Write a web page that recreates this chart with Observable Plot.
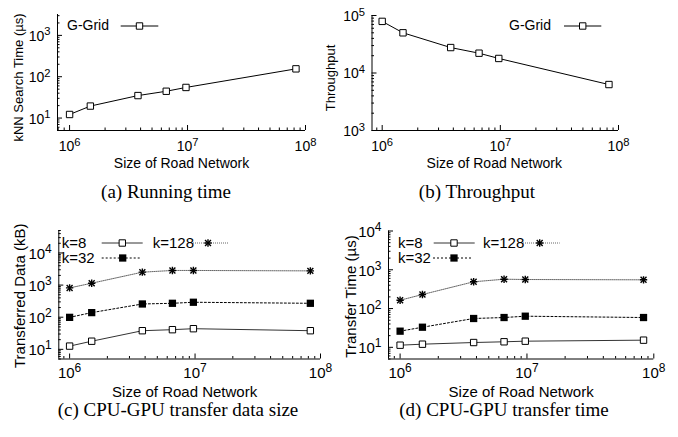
<!DOCTYPE html>
<html><head><meta charset="utf-8">
<script src="https://cdn.jsdelivr.net/npm/d3@7"></script>
<script src="https://cdn.jsdelivr.net/npm/@observablehq/plot@0.6"></script>
<style>
body{margin:0;background:#fff}
#fig{position:relative;width:678px;height:437px;overflow:hidden;background:#fff}
#fig svg{position:absolute;left:0;top:0}
.cap{position:absolute;font-family:"Liberation Serif","Times New Roman",serif;font-size:19px;white-space:nowrap;transform:translate(-50%,-50%);color:#000;line-height:1}
</style></head><body><div id="fig"></div>
<script>
// ---- data ----
const sizes = [1.0e6, 1.5e6, 3.8e6, 6.6e6, 9.7e6, 8.3e7];
const gridTime = [12.2, 19.5, 35, 44.5, 55, 155];
const gridThroughput = [79000, 50000, 27700, 22100, 17900, 6300];
const dataK8 = [12.6, 17.9, 38, 40.9, 43.9, 38];
const dataK32 = [99, 139, 258, 271, 292, 271];
const dataK128 = [816, 1143, 2522, 2850, 2850, 2770];
const timeK8 = [11.35, 12.05, 13.3, 13.9, 14.4, 15.3];
const timeK32 = [26.1, 33, 55.4, 58.7, 63.5, 58.7];
const timeK128 = [164, 230, 490, 571, 561, 551];
const xTicks = [1e6, 1e7, 1e8];
const xTickLabels = ["10^6", "10^7", "10^8"];
const yTicksA = [10, 100, 1000], yLabelsA = ["10^1", "10^2", "10^3"];
const yTicksB = [1e3, 1e4, 1e5], yLabelsB = ["10^3", "10^4", "10^5"];
const yTicksC = [10, 100, 1000, 10000], yLabelsC = ["10^1", "10^2", "10^3", "10^4"];
const yTicksD = [10, 100, 1000, 10000], yLabelsD = ["10^1", "10^2", "10^3", "10^4"];
const captions = ["(a) Running time", "(b) Throughput", "(c) CPU-GPU transfer data size", "(d) CPU-GPU transfer time"];

const styles = {
  grid: {stroke: "#000", dash: null, marker: "open"},
  k8: {stroke: "#333", dash: null, marker: "open"},
  k32: {stroke: "#000", dash: "2,2", marker: "filled"},
  k128: {stroke: "#666", dash: "1,1", marker: "star"}
};
const SQ_OPEN = 3.6, SQ_FILL = 4.1, STAR_PLUS = 2.5, STAR_TIMES = 2.8, STAR_W = 1.4;

function minorTicks(lo, hi) {
  const out = [];
  for (let e = Math.floor(Math.log10(lo)); e <= Math.ceil(Math.log10(hi)); e++)
    for (let m = 2; m <= 9; m++) { const v = m * Math.pow(10, e); if (v >= lo * 0.999 && v <= hi * 1.001) out.push(v); }
  return out;
}

function markerMarks(rows, st) {
  if (st.marker === "open") return [Plot.dot(rows, {x: "x", y: "y", symbol: "square", r: SQ_OPEN, fill: "#fff", stroke: "#000", strokeWidth: 1})];
  if (st.marker === "filled") return [Plot.dot(rows, {x: "x", y: "y", symbol: "square", r: SQ_FILL, fill: "#000", stroke: "none"})];
  return [
    Plot.dot(rows, {x: "x", y: "y", symbol: "plus", r: STAR_PLUS, stroke: "#000", strokeWidth: STAR_W}),
    Plot.dot(rows, {x: "x", y: "y", symbol: "times", r: STAR_TIMES, stroke: "#000", strokeWidth: STAR_W})
  ];
}

function panel(o) {
  const W = 678;
  const ph = o.B - o.T, pw = o.R - o.L;
  const marks = [];
  for (const s of o.series) {
    const rows = sizes.map((x, i) => ({x, y: s.values[i]}));
    const st = styles[s.style];
    marks.push(Plot.line(rows, {x: "x", y: "y", stroke: st.stroke, strokeWidth: 1, strokeDasharray: st.dash}));
    marks.push(...markerMarks(rows, st));
  }
  const svg = Plot.plot({
    width: W, height: o.H,
    marginLeft: o.L, marginRight: W - o.R, marginTop: o.T, marginBottom: o.H - o.B,
    x: {type: "log", domain: [o.xmin, 1e8], axis: null},
    y: {type: "log", domain: [o.ymin, o.ymax], axis: null},
    style: {background: "transparent", fontFamily: "'Liberation Sans', Arial, sans-serif", fontSize: o.fs + "px", color: "#000", overflow: "visible"},
    marks: [
      Plot.ruleX([o.xmin], {stroke: "#000", strokeWidth: 1}),
      Plot.ruleY([o.ymin], {stroke: "#000", strokeWidth: 1}),
      Plot.tickX(xTicks, {x: d => d, insetTop: ph - 5, stroke: "#000"}),
      Plot.tickX(minorTicks(o.xmin, 1e8), {x: d => d, insetTop: ph - 2.5, stroke: "#000"}),
      Plot.tickY(o.yTicks, {y: d => d, insetRight: pw - 5, stroke: "#000"}),
      Plot.tickY(minorTicks(o.ymin, o.ymax), {y: d => d, insetRight: pw - 2.5, stroke: "#000"}),
      ...marks,
      Plot.text(xTicks, {x: d => d, text: (d, i) => xTickLabels[i], frameAnchor: "bottom", dy: o.xtDy, textAnchor: "middle", lineAnchor: "middle", fill: "#000"}),
      Plot.text(o.yTicks, {y: d => d, text: (d, i) => o.yLabels[i], frameAnchor: "left", dx: -7, dy: 1, textAnchor: "end", lineAnchor: "middle", fill: "#000"}),
      Plot.text(["Size of Road Network"], {text: d => d, frameAnchor: "bottom", dx: o.xlDx, dy: o.xlDy, textAnchor: "middle", lineAnchor: "middle", fill: "#000"}),
      Plot.text([o.ylabel], {text: d => d, frameAnchor: "left", rotate: -90, dx: o.ylDx, dy: o.ylDy, fontSize: o.ylFs, textAnchor: "middle", lineAnchor: "middle", fill: "#000"})
    ]
  });
  // superscripts for 10^n labels
  svg.querySelectorAll("text").forEach(t => {
    if (t.children.length) return;
    const m = /^(.*)\^(.+)$/.exec(t.textContent);
    if (m) {
      t.textContent = m[1];
      const ts = document.createElementNS("http://www.w3.org/2000/svg", "tspan");
      ts.setAttribute("dy", "-0.48em");
      ts.setAttribute("font-size", "0.8em");
      ts.textContent = m[2];
      t.appendChild(ts);
    }
  });
  // legend
  const g = d3.select(svg).append("g");
  for (const it of o.legend) {
    const st = styles[it.style];
    g.append("text").attr("x", it.tx).attr("y", it.y).attr("dy", "0.32em").attr("text-anchor", "start").attr("fill", "#000").text(it.label);
    g.append("line").attr("x1", it.x1).attr("x2", it.x2).attr("y1", it.y).attr("y2", it.y)
      .attr("stroke", st.stroke).attr("stroke-width", 1).attr("stroke-dasharray", st.dash);
    const tr = `translate(${it.mx},${it.y})`;
    if (st.marker === "open") g.append("path").attr("transform", tr).attr("d", d3.symbol(d3.symbolSquare, SQ_OPEN * SQ_OPEN * Math.PI)()).attr("fill", "#fff").attr("stroke", "#000");
    else if (st.marker === "filled") g.append("path").attr("transform", tr).attr("d", d3.symbol(d3.symbolSquare, SQ_FILL * SQ_FILL * Math.PI)()).attr("fill", "#000");
    else {
      g.append("path").attr("transform", tr).attr("d", d3.symbol(d3.symbolPlus, STAR_PLUS * STAR_PLUS * Math.PI)()).attr("fill", "none").attr("stroke", "#000").attr("stroke-width", STAR_W);
      g.append("path").attr("transform", tr).attr("d", d3.symbol(d3.symbolTimes, STAR_TIMES * STAR_TIMES * Math.PI)()).attr("fill", "none").attr("stroke", "#000").attr("stroke-width", STAR_W);
    }
  }
  return svg;
}

const fig = document.getElementById("fig");
fig.appendChild(panel({
  H: 180, L: 57, R: 305, T: 14, B: 130, fs: 14, ylFs: 13, xmin: 7.9e5, ymin: 5, ymax: 3200, xtDy: 16,
  yTicks: yTicksA, yLabels: yLabelsA, ylabel: "kNN Search Time (µs)", ylDx: -39, ylDy: 5, xlDx: 0, xlDy: 33,
  series: [{values: gridTime, style: "grid"}],
  legend: [{label: "G-Grid", style: "grid", tx: 67, y: 26, x1: 120.7, x2: 158.3, mx: 139.5}]
}));
fig.appendChild(panel({
  H: 180, L: 371.5, R: 618, T: 15, B: 130, fs: 14, ylFs: 13, xmin: 8.2e5, ymin: 1e3, ymax: 1e5, xtDy: 16,
  yTicks: yTicksB, yLabels: yLabelsB, ylabel: "Throughput", ylDx: -41, ylDy: 5, xlDx: -1, xlDy: 33,
  series: [{values: gridThroughput, style: "grid"}],
  legend: [{label: "G-Grid", style: "grid", tx: 509, y: 26, x1: 564, x2: 601.3, mx: 582.7}]
}));
fig.appendChild(panel({
  H: 437, L: 58.3, R: 320, T: 230, B: 358.5, fs: 15, ylFs: 15, xmin: 8.2e5, ymin: 5, ymax: 5e4, xtDy: 14,
  yTicks: yTicksC, yLabels: yLabelsC, ylabel: "Transferred Data (kB)", ylDx: -39, ylDy: 1, xlDx: -5, xlDy: 33,
  series: [{values: dataK8, style: "k8"}, {values: dataK32, style: "k32"}, {values: dataK128, style: "k128"}],
  legend: [
    {label: "k=8", style: "k8", tx: 61.7, y: 243, x1: 101.7, x2: 142.7, mx: 122.3},
    {label: "k=128", style: "k128", tx: 152.7, y: 243, x1: 193, x2: 228, mx: 208},
    {label: "k=32", style: "k32", tx: 61.7, y: 258, x1: 101.7, x2: 141.7, mx: 122.7}
  ]
}));
fig.appendChild(panel({
  H: 437, L: 388, R: 653.3, T: 230.5, B: 358.5, fs: 15, ylFs: 15, xmin: 8.1e5, ymin: 5, ymax: 1e4, xtDy: 14,
  yTicks: yTicksD, yLabels: yLabelsD, ylabel: "Transfer Time (µs)", ylDx: -37, ylDy: 1.5, xlDx: 0, xlDy: 33.5,
  series: [{values: timeK8, style: "k8"}, {values: timeK32, style: "k32"}, {values: timeK128, style: "k128"}],
  legend: [
    {label: "k=8", style: "k8", tx: 398, y: 243, x1: 433.7, x2: 474.7, mx: 454},
    {label: "k=128", style: "k128", tx: 483, y: 243, x1: 523, x2: 559.7, mx: 539.7},
    {label: "k=32", style: "k32", tx: 398, y: 258, x1: 433, x2: 473, mx: 454}
  ]
}));
const capPos = [[166, 191], [477, 191], [178, 409], [504, 409]];
captions.forEach((c, i) => {
  const d = document.createElement("div");
  d.className = "cap";
  d.style.left = capPos[i][0] + "px";
  d.style.top = capPos[i][1] + "px";
  d.textContent = c;
  fig.appendChild(d);
});
</script></body></html>
